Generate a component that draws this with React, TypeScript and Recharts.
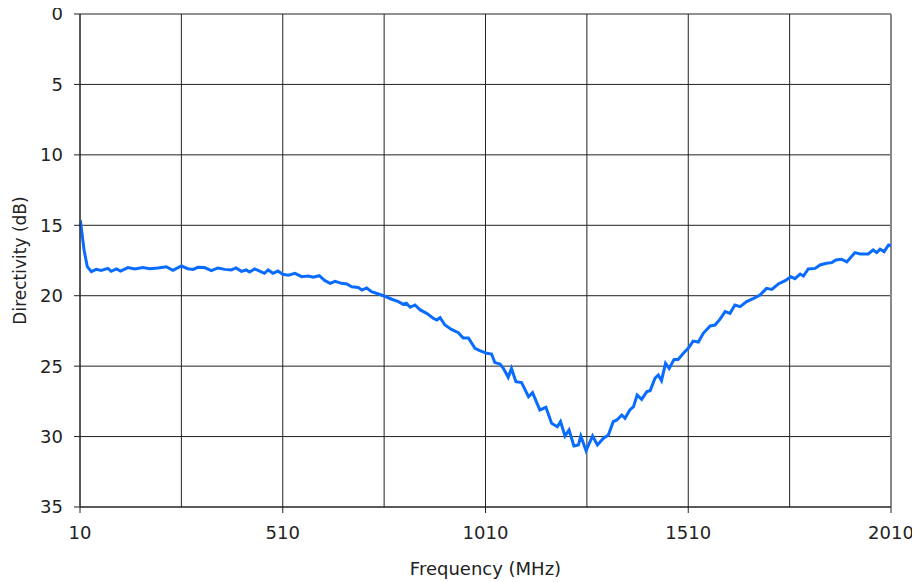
import {
  CartesianGrid,
  Line,
  LineChart,
  ReferenceLine,
  XAxis,
  YAxis,
} from 'recharts';

// frequency samples (MHz)
const freqs = [
  10, 12, 20, 28, 38, 50, 62, 79, 87, 100, 110, 128, 145, 165, 182, 202, 223, 239, 260, 276,
  289, 301, 317, 334, 350, 367, 383, 395, 408, 420, 428, 441, 453, 465, 474, 486, 498, 510,
  524, 540, 557, 573, 585, 600, 614, 627, 639, 655, 668, 680, 696, 705, 717, 729, 746, 760,
  779, 795, 807, 815, 824, 836, 849, 865, 881, 890, 898, 910, 926, 943, 955, 968, 984, 996,
  1013, 1025, 1033, 1046, 1054, 1066, 1074, 1085, 1099, 1116, 1126, 1144, 1159, 1173, 1187,
  1195, 1206, 1216, 1228, 1239, 1245, 1258, 1274, 1286, 1301, 1313, 1325, 1334, 1346, 1354,
  1366, 1375, 1384, 1395, 1408, 1416, 1428, 1436, 1444, 1454, 1463, 1475, 1485, 1498, 1510,
  1522, 1535, 1547, 1564, 1576, 1588, 1601, 1613, 1625, 1638, 1654, 1670, 1687, 1703, 1716,
  1732, 1749, 1763, 1773, 1786, 1794, 1806, 1823, 1835, 1851, 1864, 1874, 1888, 1901, 1921,
  1934, 1954, 1966, 1975, 1983, 1993, 2004, 2010,
];

// directivity (dB)
const directivity = [
  15.0, 14.9, 16.75, 17.94, 18.29, 18.13, 18.2, 18.06, 18.27, 18.1, 18.25, 18.0, 18.1, 18.0,
  18.08, 18.03, 17.94, 18.2, 17.89, 18.08, 18.13, 17.98, 18.0, 18.22, 18.03, 18.13, 18.17,
  18.03, 18.27, 18.17, 18.32, 18.1, 18.25, 18.41, 18.17, 18.41, 18.25, 18.48, 18.55, 18.41,
  18.65, 18.6, 18.69, 18.58, 18.93, 19.12, 18.98, 19.12, 19.17, 19.36, 19.41, 19.6, 19.45,
  19.71, 19.88, 20.02, 20.25, 20.42, 20.61, 20.54, 20.82, 20.66, 21.01, 21.25, 21.6, 21.72,
  21.56, 22.08, 22.39, 22.62, 23.0, 23.0, 23.73, 23.9, 24.09, 24.14, 24.75, 24.85, 25.16,
  25.79, 25.16, 26.1, 26.17, 27.17, 26.88, 28.11, 27.92, 29.06, 29.3, 28.94, 29.96, 29.53,
  30.67, 30.6, 29.96, 31.0, 29.96, 30.6, 30.12, 29.89, 28.94, 28.82, 28.47, 28.7, 28.11,
  27.88, 27.05, 27.36, 26.81, 26.74, 25.86, 25.63, 26.03, 24.8, 25.16, 24.52, 24.52, 24.09,
  23.73, 23.22, 23.29, 22.67, 22.15, 22.08, 21.68, 21.13, 21.25, 20.66, 20.78, 20.42, 20.2,
  19.95, 19.48, 19.55, 19.17, 18.93, 18.65, 18.79, 18.46, 18.6, 18.1, 18.06, 17.82, 17.7,
  17.65, 17.46, 17.41, 17.6, 16.94, 17.04, 17.04, 16.75, 16.94, 16.7, 16.87, 16.4, 16.45,
];

const xTicks = [10, 510, 1010, 1510, 2010];
const xMinorGrid = [260, 760, 1260, 1760];
const yTicks = [0, 5, 10, 15, 20, 25, 30, 35];

const data = freqs.map((f, i) => ({ freq: f, dir: directivity[i] }));

const font = 'Verdana, "DejaVu Sans", sans-serif';

const YTitle = (props: any) => {
  const vb = props.viewBox || {};
  const cy = (vb.y ?? 0) + (vb.height ?? 0) / 2;
  return (
    <text
      x={20}
      y={cy}
      transform={`rotate(-90, 20, ${cy})`}
      textAnchor="middle"
      dominantBaseline="central"
      fill="#222"
      fontSize={17}
      fontFamily={font}
    >
      Directivity (dB)
    </text>
  );
};

export default function App() {
  return (
    <div style={{ width: 920, height: 582, margin: '-8px 0 0 -8px', fontFamily: font }}>
      <LineChart
        width={920}
        height={582}
        data={data}
        margin={{ top: 14, right: 29, left: 0, bottom: 35 }}
      >
        <CartesianGrid stroke="#222" strokeWidth={1} horizontal vertical />
        {xMinorGrid.map((x) => (
          <ReferenceLine key={x} x={x} stroke="#222" strokeWidth={1} />
        ))}
        <ReferenceLine x={2010} stroke="#888" strokeWidth={2} />
        <XAxis
          dataKey="freq"
          type="number"
          domain={[10, 2010]}
          ticks={xTicks}
          interval={0}
          height={40}
          tickSize={6}
          tickMargin={13}
          stroke="#222"
          tick={{ fill: '#222', fontSize: 18, fontFamily: font }}
          label={{
            value: 'Frequency (MHz)',
            position: 'insideBottom',
            offset: -28,
            fill: '#222',
            fontSize: 18,
            fontFamily: font,
          }}
        />
        <YAxis
          type="number"
          reversed
          domain={[0, 35]}
          ticks={yTicks}
          interval={0}
          width={80}
          tickSize={6}
          tickMargin={11}
          stroke="#222"
          tick={{ fill: '#222', fontSize: 18, fontFamily: font }}
          label={{ content: YTitle }}
        />
        <Line
          type="linear"
          dataKey="dir"
          stroke="#0A6CFF"
          strokeWidth={3}
          dot={false}
          isAnimationActive={false}
        />
      </LineChart>
    </div>
  );
}
